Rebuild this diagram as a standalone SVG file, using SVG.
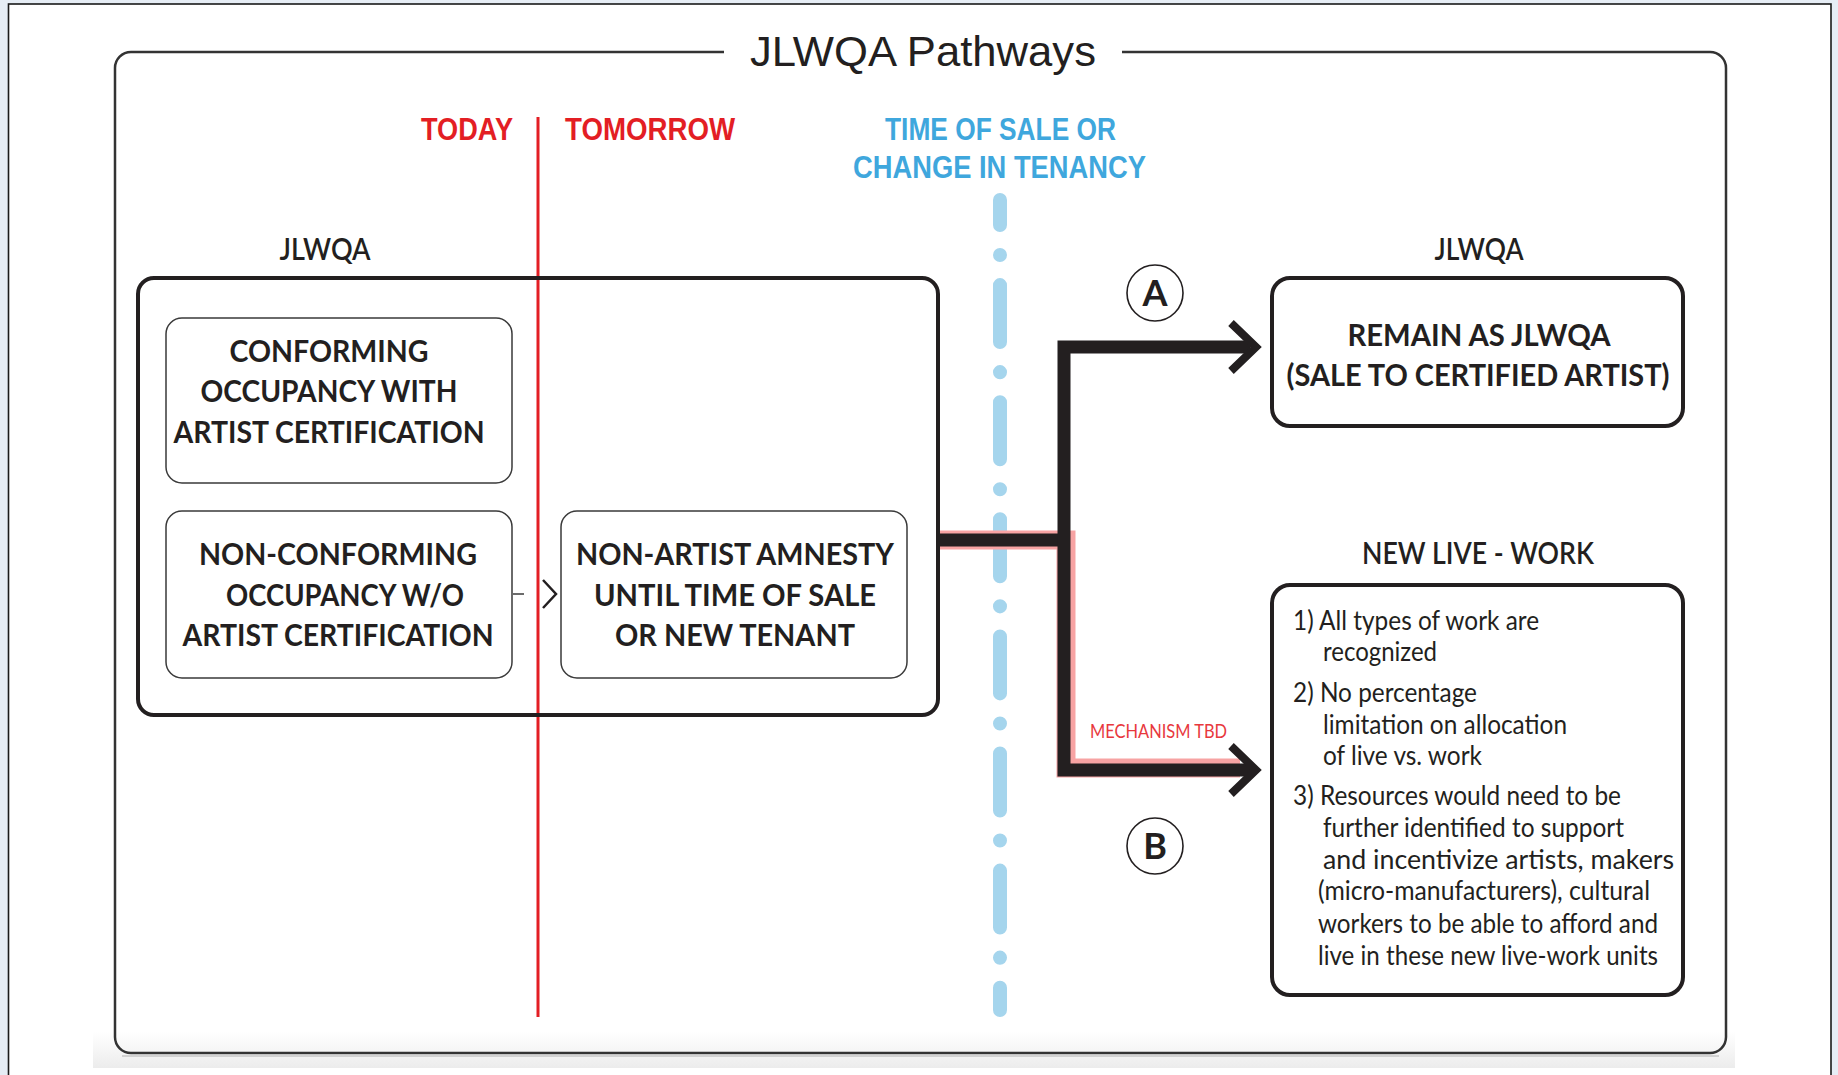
<svg xmlns="http://www.w3.org/2000/svg" width="1838" height="1075" viewBox="0 0 1838 1075">
  <defs>
    <linearGradient id="shade" x1="0" y1="0" x2="0" y2="1">
      <stop offset="0" stop-color="#ffffff"/>
      <stop offset="1" stop-color="#ececec"/>
    </linearGradient>
  </defs>
  <style>
    .title { font-family: "Liberation Sans", Arial, sans-serif; font-size: 43px; fill: #231f20; }
    .hdr { font-family: "Liberation Sans", Arial, sans-serif; font-weight: bold; font-size: 32px; }
    .red { fill: #e31e24; }
    .blue { fill: #3fa7dd; }
    .lbl { font-family: Lato, "Liberation Sans", sans-serif; font-weight: 600; font-size: 30px; fill: #231f20; }
    .bold { font-family: Lato, "Liberation Sans", sans-serif; font-weight: bold; font-size: 31px; fill: #231f20; }
    .body { font-family: Lato, "Liberation Sans", sans-serif; font-size: 26px; fill: #231f20; }
    .box { fill: none; stroke: #231f20; stroke-width: 4; }
    .thin { fill: none; stroke: #3a3a3a; stroke-width: 1.5; }
    .circ { fill: #ffffff; stroke: #231f20; stroke-width: 1.6; }
    .letter { font-family: Lato, "Liberation Sans", sans-serif; font-weight: bold; font-size: 36px; fill: #231f20; }
  </style>

  <!-- background / page -->
  <rect x="0" y="0" width="1838" height="1075" fill="#e6edf5"/>
  <rect x="8.5" y="4" width="1822.5" height="1090" fill="#ffffff" stroke="#1a1a1a" stroke-width="1.6"/>
  <rect x="93" y="1032" width="1642" height="36" fill="url(#shade)"/>

  <!-- frame with title -->
  <g id="frame">
    <path d="M 724 52 H 131 A 16 16 0 0 0 115 68 V 1037 A 16 16 0 0 0 131 1053 H 1710 A 16 16 0 0 0 1726 1037 V 68 A 16 16 0 0 0 1710 52 H 1122" fill="none" stroke="#333333" stroke-width="2.5"/>
    <path d="M 122 1056 H 1719" fill="none" stroke="#b0b0b0" stroke-width="1"/>
    <text class="title" x="923" y="66" text-anchor="middle" textLength="346" lengthAdjust="spacingAndGlyphs">JLWQA Pathways</text>
  </g>

  <!-- timeline markers -->
  <g id="today-line">
    <line x1="538" y1="117" x2="538" y2="1017" stroke="#e31e24" stroke-width="3"/>
    <text class="hdr red" x="513" y="140" text-anchor="end" textLength="92" lengthAdjust="spacingAndGlyphs">TODAY</text>
    <text class="hdr red" x="565" y="140" textLength="170" lengthAdjust="spacingAndGlyphs">TOMORROW</text>
  </g>
  <g id="sale-line">
    <line x1="1000" y1="200" x2="1000" y2="1010" stroke="#a5d5ed" stroke-width="14" stroke-linecap="round" stroke-dasharray="57 30 0.1 30" stroke-dashoffset="32"/>
    <text class="hdr blue" x="1000.5" y="140" text-anchor="middle" textLength="231" lengthAdjust="spacingAndGlyphs">TIME OF SALE OR</text>
    <text class="hdr blue" x="999.5" y="178" text-anchor="middle" textLength="293" lengthAdjust="spacingAndGlyphs">CHANGE IN TENANCY</text>
  </g>

  <!-- connectors -->
  <g id="connectors">
    <path d="M 938 540 H 1066 V 768 H 1240" fill="none" stroke="#f7a3a3" stroke-width="19"/>
    <path d="M 938 540 H 1064" fill="none" stroke="#231f20" stroke-width="13"/>
    <path d="M 1250 347 H 1064 V 770 H 1250" fill="none" stroke="#231f20" stroke-width="13" stroke-linejoin="miter"/>
    <polyline points="1231,323 1256,347 1231,371" fill="none" stroke="#231f20" stroke-width="8" stroke-linejoin="miter"/>
    <polyline points="1231,746 1256,770 1231,794" fill="none" stroke="#231f20" stroke-width="8" stroke-linejoin="miter"/>
    <line x1="513" y1="594" x2="524" y2="594" stroke="#3a3a3a" stroke-width="1.5"/>
    <polyline points="543,580 556,594 543,608" fill="none" stroke="#231f20" stroke-width="2.5"/>
    <text x="1090" y="738" font-family="Lato, 'Liberation Sans', sans-serif" font-size="19" fill="#e8383d" textLength="137" lengthAdjust="spacingAndGlyphs">MECHANISM TBD</text>
  </g>

  <!-- left JLWQA group -->
  <g id="jlwqa-today">
    <text class="lbl" x="325" y="260" text-anchor="middle" textLength="91" lengthAdjust="spacingAndGlyphs">JLWQA</text>
    <rect class="box" x="138" y="278" width="800" height="437" rx="16"/>
  </g>

  <g id="conforming">
    <rect class="thin" x="166" y="318" width="346" height="165" rx="16"/>
    <text class="bold" x="329" y="362" text-anchor="middle" textLength="199" lengthAdjust="spacingAndGlyphs">CONFORMING</text>
    <text class="bold" x="329" y="402" text-anchor="middle" textLength="257" lengthAdjust="spacingAndGlyphs">OCCUPANCY WITH</text>
    <text class="bold" x="329" y="443" text-anchor="middle" textLength="311" lengthAdjust="spacingAndGlyphs">ARTIST CERTIFICATION</text>
  </g>

  <g id="non-conforming">
    <rect class="thin" x="166" y="511" width="346" height="167" rx="16"/>
    <text class="bold" x="338" y="565" text-anchor="middle" textLength="278" lengthAdjust="spacingAndGlyphs">NON-CONFORMING</text>
    <text class="bold" x="345" y="606" text-anchor="middle" textLength="238" lengthAdjust="spacingAndGlyphs">OCCUPANCY W/O</text>
    <text class="bold" x="338" y="646" text-anchor="middle" textLength="311" lengthAdjust="spacingAndGlyphs">ARTIST CERTIFICATION</text>
  </g>

  <g id="amnesty">
    <rect class="thin" x="561" y="511" width="346" height="167" rx="16"/>
    <text class="bold" x="735" y="565" text-anchor="middle" textLength="318" lengthAdjust="spacingAndGlyphs">NON-ARTIST AMNESTY</text>
    <text class="bold" x="735" y="606" text-anchor="middle" textLength="282" lengthAdjust="spacingAndGlyphs">UNTIL TIME OF SALE</text>
    <text class="bold" x="735" y="646" text-anchor="middle" textLength="240" lengthAdjust="spacingAndGlyphs">OR NEW TENANT</text>
  </g>

  <g id="badge-a">
    <circle class="circ" cx="1155" cy="293" r="28"/>
    <text class="letter" x="1155" y="306" text-anchor="middle">A</text>
  </g>
  <g id="badge-b">
    <circle class="circ" cx="1155" cy="846" r="28"/>
    <text class="letter" x="1155" y="859" text-anchor="middle">B</text>
  </g>

  <g id="remain">
    <text class="lbl" x="1479" y="260" text-anchor="middle" textLength="89" lengthAdjust="spacingAndGlyphs">JLWQA</text>
    <rect class="box" x="1272" y="278" width="411" height="148" rx="18"/>
    <text class="bold" x="1479" y="346" text-anchor="middle" textLength="263" lengthAdjust="spacingAndGlyphs">REMAIN AS JLWQA</text>
    <text class="bold" x="1478" y="386" text-anchor="middle" textLength="383" lengthAdjust="spacingAndGlyphs">(SALE TO CERTIFIED ARTIST)</text>
  </g>

  <g id="new-live-work">
    <text class="lbl" x="1478" y="564" text-anchor="middle" textLength="232" lengthAdjust="spacingAndGlyphs">NEW LIVE - WORK</text>
    <rect class="box" x="1272" y="585" width="411" height="410" rx="18"/>
    <text class="body" x="1293" y="630" textLength="246" lengthAdjust="spacingAndGlyphs">1) All types of work are</text>
    <text class="body" x="1323" y="661" textLength="114" lengthAdjust="spacingAndGlyphs">recognized</text>
    <text class="body" x="1293" y="702" textLength="184" lengthAdjust="spacingAndGlyphs">2) No percentage</text>
    <text class="body" x="1323" y="734" textLength="244" lengthAdjust="spacingAndGlyphs">limitation on allocation</text>
    <text class="body" x="1323" y="765" textLength="159" lengthAdjust="spacingAndGlyphs">of live vs. work</text>
    <text class="body" x="1293" y="805" textLength="328" lengthAdjust="spacingAndGlyphs">3) Resources would need to be</text>
    <text class="body" x="1323" y="837" textLength="301" lengthAdjust="spacingAndGlyphs">further identified to support</text>
    <text class="body" x="1323" y="869" textLength="351" lengthAdjust="spacingAndGlyphs">and incentivize artists, makers</text>
    <text class="body" x="1318" y="900" textLength="332" lengthAdjust="spacingAndGlyphs">(micro-manufacturers), cultural</text>
    <text class="body" x="1318" y="933" textLength="340" lengthAdjust="spacingAndGlyphs">workers to be able to afford and</text>
    <text class="body" x="1318" y="965" textLength="340" lengthAdjust="spacingAndGlyphs">live in these new live-work units</text>
  </g>
</svg>
